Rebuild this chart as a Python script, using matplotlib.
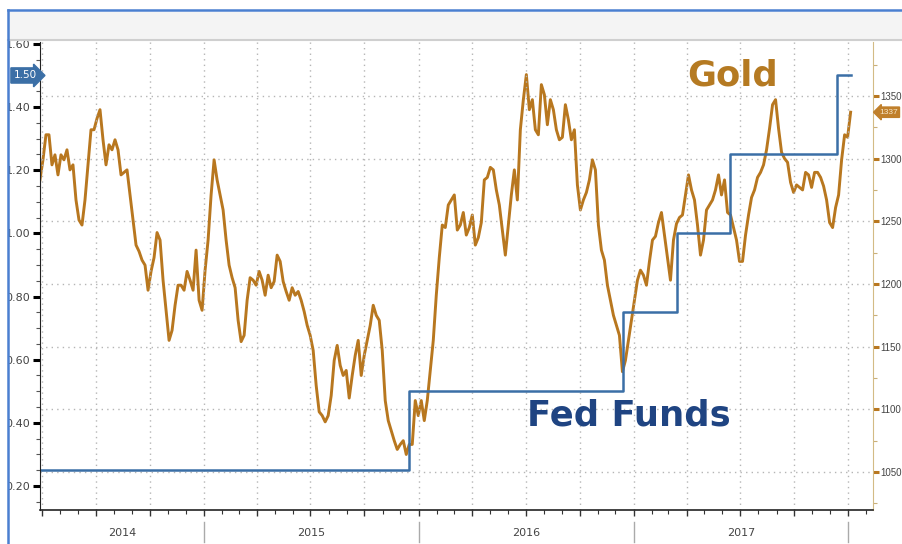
import matplotlib.pyplot as plt
import matplotlib.dates as mdates
import matplotlib.transforms as mtransforms
from matplotlib.patches import Rectangle
from matplotlib.lines import Line2D
from matplotlib.ticker import MultipleLocator, FormatStrFormatter
import pandas as pd

# gold price, evenly spaced samples between start and end
gold = [1283, 1299, 1319, 1319, 1295, 1303, 1287, 1303, 1299, 1307, 1291, 1295, 1267, 1251, 1247, 1267,
        1295, 1323, 1323, 1332, 1339, 1315, 1295, 1311, 1307, 1315, 1307, 1287, 1289, 1291, 1271, 1251,
        1231, 1226, 1219, 1215, 1195, 1210, 1221, 1241, 1235, 1203, 1179, 1155, 1163, 1183, 1199, 1199,
        1195, 1210, 1203, 1195, 1227, 1187, 1179, 1211, 1235, 1271, 1299, 1283, 1271, 1259, 1235, 1215,
        1205, 1197, 1171, 1154, 1159, 1187, 1205, 1203, 1199, 1210, 1203, 1191, 1207, 1197, 1202, 1223,
        1218, 1202, 1194, 1187, 1197, 1191, 1194, 1187, 1178, 1167, 1159, 1147, 1119, 1098, 1095, 1090,
        1095, 1111, 1139, 1151, 1135, 1127, 1131, 1109, 1127, 1143, 1155, 1127, 1143, 1155, 1167, 1183,
        1175, 1171, 1147, 1107, 1091, 1083, 1075, 1068, 1072, 1075, 1064, 1072, 1072, 1107, 1095, 1107,
        1091, 1107, 1131, 1155, 1191, 1221, 1247, 1245, 1263, 1267, 1271, 1243, 1247, 1257, 1239, 1245,
        1255, 1231, 1237, 1249, 1283, 1285, 1293, 1291, 1275, 1263, 1243, 1223, 1247, 1271, 1291, 1267,
        1323, 1347, 1367, 1339, 1347, 1323, 1319, 1359, 1351, 1327, 1347, 1339, 1323, 1315, 1317, 1343,
        1331, 1315, 1323, 1279, 1259, 1267, 1273, 1283, 1299, 1291, 1247, 1227, 1219, 1199, 1187, 1175,
        1167, 1159, 1130, 1139, 1155, 1171, 1187, 1203, 1211, 1207, 1199, 1218, 1235, 1238, 1249, 1257,
        1239, 1221, 1203, 1235, 1248, 1253, 1255, 1271, 1287, 1275, 1267, 1247, 1223, 1235, 1259, 1263,
        1267, 1275, 1287, 1271, 1283, 1257, 1255, 1245, 1235, 1218, 1218, 1239, 1255, 1269, 1275, 1285,
        1289, 1295, 1307, 1324, 1343, 1347, 1324, 1305, 1300, 1297, 1281, 1273, 1279, 1277, 1275, 1289,
        1287, 1277, 1289, 1289, 1285, 1278, 1267, 1249, 1245, 1261, 1271, 1299, 1319, 1317, 1337]
gold_start = '2014-03-28'
gold_end = '2018-01-05'

# fed funds target (upper bound)
fed_dates = ['2014-03-28', '2015-12-16', '2016-12-14', '2017-03-15', '2017-06-14', '2017-12-13', '2018-01-05']
fed_rate = [0.25, 0.50, 0.75, 1.00, 1.25, 1.50, 1.50]

years = [2014, 2015, 2016, 2017]

gold_dates = pd.date_range(gold_start, gold_end, periods=len(gold))
fed_dates = pd.to_datetime(fed_dates)

gold_col = '#b8771f'
fed_col = '#3b6fa6'

fig = plt.figure(figsize=(9.02, 5.44), dpi=100)
ax = fig.add_axes([0.0443, 0.0625, 0.9235, 0.8603])
ax2 = ax.twinx()
ax.set_zorder(ax2.get_zorder() + 1)
ax.patch.set_visible(False)

x0 = pd.Timestamp('2014-03-28')
x1 = pd.Timestamp('2018-02-12')

# gold on right axis
ax2.plot(gold_dates, gold, color=gold_col, lw=2.1)
ax2.set_ylim(1019.7, 1393)
ax2.yaxis.set_major_locator(MultipleLocator(50))
ax2.yaxis.set_minor_locator(MultipleLocator(25))
ax2.yaxis.set_major_formatter(FormatStrFormatter('%d'))
ax2.tick_params(axis='y', which='major', length=4, width=2.2, color=gold_col,
                labelsize=7, labelcolor='#444444', pad=1.5)
ax2.tick_params(axis='y', which='minor', length=3, width=0.8, color='#c9b07a')
for lab in ax2.get_yticklabels():
    lab.set_family('Liberation Sans')
ax2.grid(axis='y', color='#b5b5b5', linestyle=(0, (1, 3)), lw=1)

# fed funds on left axis
ax.plot(fed_dates, fed_rate, drawstyle='steps-post', color=fed_col, lw=1.8)
ax.set_ylim(0.124, 1.606)
ax.yaxis.set_major_locator(MultipleLocator(0.2))
ax.yaxis.set_minor_locator(MultipleLocator(0.05))
ax.yaxis.set_major_formatter(FormatStrFormatter('%.2f'))
ax.tick_params(axis='y', which='major', length=5, width=2.2, color='black',
               labelsize=8, labelcolor='#444444', pad=2)
ax.tick_params(axis='y', which='minor', length=3, width=0.8, color='#555555')

ax.set_xlim(x0, x1)
ax.xaxis.set_major_locator(mdates.MonthLocator(bymonth=[1, 4, 7, 10]))
ax.xaxis.set_minor_locator(mdates.MonthLocator())
ax.xaxis.set_major_formatter(plt.NullFormatter())
ax.tick_params(axis='x', which='major', length=4, width=1, color='#333333')
ax.tick_params(axis='x', which='minor', length=3, width=0.8, color='#333333')
ax.grid(axis='x', which='major', color='#b5b5b5', linestyle=(0, (1, 3)), lw=1)
ax2.tick_params(axis='x', which='both', length=0)

for a in (ax, ax2):
    a.spines['top'].set_visible(False)
ax.spines['right'].set_visible(False)
ax2.spines['left'].set_visible(False)
ax2.spines['right'].set_color('#d3bb85')
ax2.spines['bottom'].set_visible(False)
ax.spines['left'].set_color('#222222')
ax.spines['bottom'].set_color('#222222')
ax.spines['bottom'].set_linewidth(1.2)

# year labels and separators below the axis
trans = mtransforms.blended_transform_factory(ax.transData, ax.transAxes)
for y in years + [years[-1] + 1]:
    d = mdates.date2num(pd.Timestamp(f'{y}-01-01'))
    if d > mdates.date2num(x0):
        ax.add_line(Line2D([d, d], [-0.026, -0.068], transform=trans, color='#aaaaaa',
                           lw=1, clip_on=False))
for y in years:
    a = max(mdates.date2num(pd.Timestamp(f'{y}-01-01')), mdates.date2num(x0))
    b = min(mdates.date2num(pd.Timestamp(f'{y + 1}-01-01')), mdates.date2num(x1))
    ax.text((a + b) / 2, -0.049, str(y), transform=trans, ha='center', va='center',
            fontsize=8, color='#444444')

# series labels
ax.text(0.832, 0.929, 'Gold', transform=ax.transAxes, ha='center', va='center',
        fontsize=25.5, fontweight='bold', color='#b57a22')
ax.text(0.707, 0.201, 'Fed Funds', transform=ax.transAxes, ha='center', va='center',
        fontsize=25.5, fontweight='bold', color='#1f4482')

# last value tags
tl = mtransforms.blended_transform_factory(ax.transAxes, ax.transData)
ax.text(-0.004, fed_rate[-1], '%.2f' % fed_rate[-1], transform=tl, ha='right', va='center',
        fontsize=7.5, color='white', clip_on=False, zorder=5,
        bbox=dict(boxstyle='rarrow,pad=0.25', fc=fed_col, ec=fed_col))
tr = mtransforms.blended_transform_factory(ax2.transAxes, ax2.transData)
ax2.text(1.0075, gold[-1], '%d' % gold[-1], transform=tr, ha='left', va='center',
         fontsize=6, family='Liberation Sans', color='#f6e6c8', clip_on=False, zorder=5,
         bbox=dict(boxstyle='larrow,pad=0.2', fc='#c07f2a', ec='#c07f2a'))

# screenshot frame: header band and blue border
fig.add_artist(Rectangle((0.0089, 0.9265), 0.9911, 0.0515, transform=fig.transFigure,
                         fc='#f4f4f4', ec='none', zorder=10))
fig.add_artist(Line2D([0.0089, 1], [0.9265, 0.9265], transform=fig.transFigure,
                      color='#cfcfcf', lw=1.5, zorder=11))
fig.add_artist(Rectangle((0, 0), 0.0089, 1, transform=fig.transFigure,
                         fc='white', ec='none', zorder=10))
fig.add_artist(Rectangle((0, 0.981), 1, 0.019, transform=fig.transFigure,
                         fc='white', ec='none', zorder=10))
fig.add_artist(Line2D([0.0089, 0.0089], [0, 0.981], transform=fig.transFigure,
                      color='#4a7fd0', lw=1.8, zorder=12))
fig.add_artist(Line2D([0.0089, 1], [0.981, 0.981], transform=fig.transFigure,
                      color='#4a7fd0', lw=1.8, zorder=12))

fig.savefig('out.png', dpi=100)
